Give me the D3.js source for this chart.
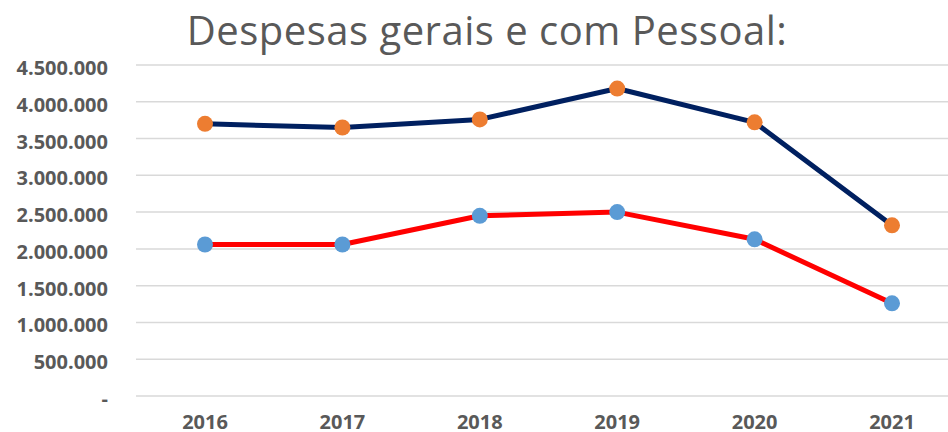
<!DOCTYPE html>
<html>
<head>
<meta charset="utf-8">
<style>
  body { margin: 0; background: #fff; }
  svg text { fill: #595959; }
</style>
</head>
<body>
<svg id="chart" width="948" height="432"></svg>
<script src="https://cdn.jsdelivr.net/npm/d3@7"></script>
<script>
// data
const years = ["2016", "2017", "2018", "2019", "2020", "2021"];
const gerais = [3700000, 3650000, 3760000, 4180000, 3720000, 2320000];
const pessoal = [2060000, 2060000, 2450000, 2500000, 2130000, 1260000];
const yTicks = [0, 500000, 1000000, 1500000, 2000000, 2500000, 3000000, 3500000, 4000000, 4500000];

const svg = d3.select("#chart");

// scales
const x = d3.scalePoint().domain(years).range([205, 892]);
const y = d3.scaleLinear().domain([0, 4500000]).range([396, 65]);

const fmt = v => v === 0 ? "-" : d3.format(",")(v).replace(/,/g, ".");

// title
svg.append("text")
  .attr("x", 487).attr("y", 45)
  .attr("text-anchor", "middle")
  .style("font-family", "'Open Sans', sans-serif")
  .style("font-size", "40px")
  .style("letter-spacing", "0.5px")
  .text("Despesas gerais e com Pessoal:");

// grid
svg.append("g").selectAll("line")
  .data(yTicks)
  .join("line")
  .attr("x1", 136).attr("x2", 948)
  .attr("y1", d => y(d)).attr("y2", d => y(d))
  .attr("stroke", "#d9d9d9")
  .attr("stroke-width", 1.5);

// y axis labels
svg.append("g").selectAll("text")
  .data(yTicks)
  .join("text")
  .attr("x", 108)
  .attr("y", d => y(d) + 10)
  .attr("text-anchor", "end")
  .style("font-family", "'Open Sans', sans-serif")
  .style("font-weight", "bold")
  .style("font-size", "20px")
  .text(fmt);

// x axis labels
svg.append("g").selectAll("text")
  .data(years)
  .join("text")
  .attr("x", d => x(d))
  .attr("y", 429)
  .attr("text-anchor", "middle")
  .style("font-family", "'Open Sans', sans-serif")
  .style("font-weight", "bold")
  .style("font-size", "20px")
  .text(d => d);

const line = d3.line().x((d, i) => x(years[i])).y(d => y(d));

const series = [
  { values: gerais, stroke: "#002060", marker: "#ED7D31" },
  { values: pessoal, stroke: "#FF0000", marker: "#5B9BD5" }
];

series.forEach(s => {
  svg.append("path")
    .datum(s.values)
    .attr("d", line)
    .attr("fill", "none")
    .attr("stroke", s.stroke)
    .attr("stroke-width", 5)
    .attr("stroke-linejoin", "round");
  svg.append("g").selectAll("circle")
    .data(s.values)
    .join("circle")
    .attr("cx", (d, i) => x(years[i]))
    .attr("cy", d => y(d))
    .attr("r", 8)
    .attr("fill", s.marker);
});
</script>
</body>
</html>
